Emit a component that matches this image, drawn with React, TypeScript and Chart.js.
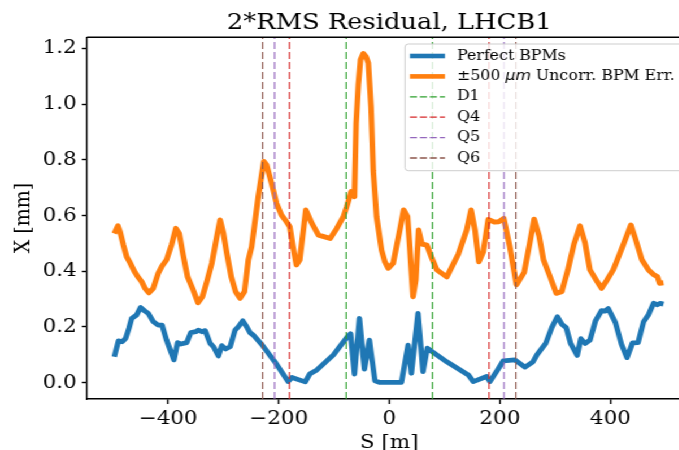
import React, { useEffect, useRef } from 'react';
import { Chart, registerables } from 'chart.js';

Chart.register(...registerables);

// ---- text ----
const TITLE = '2*RMS Residual, LHCB1';
const X_LABEL = 'S [m]';
const Y_LABEL = 'X [mm]';
const X_TICKS = [-400, -200, 0, 200, 400];
const Y_TICKS = [0, 0.2, 0.4, 0.6, 0.8, 1.0, 1.2];
const X_RANGE = [-547, 547];
const Y_RANGE = [-0.0585, 1.2402];

// ---- series: Perfect BPMs ----
const perfectS = [
  -497.5, -490, -483, -477, -471, -466, -457, -450, -442, -436, -427, -418, -411, -403, -389.5,
  -383, -377, -366.5, -359, -350, -345.5, -339, -333, -324, -318, -309, -303, -296, -288, -279,
  -273, -265, -258, -252, -246, -231, -207, -183, -176, -152, -144, -131, -101, -77, -70, -63,
  -54, -45, -36, -26, -17, 22, 34, 40, 52, 61, 68.7, 78, 104, 143, 152, 176, 182, 194, 206,
  227, 245.5, 260, 267, 283, 294, 304, 312, 320, 328, 340, 346.5, 354.5, 363, 373, 384, 390,
  396, 409, 420, 430, 440, 450, 460, 468.5, 478, 485, 490, 496,
];
const perfectX = [
  0.093, 0.150, 0.147, 0.159, 0.195, 0.231, 0.243, 0.270, 0.257, 0.249, 0.219, 0.207, 0.207, 0.153, 0.082,
  0.144, 0.139, 0.144, 0.180, 0.183, 0.189, 0.183, 0.187, 0.141, 0.129, 0.096, 0.133, 0.121, 0.129, 0.189,
  0.201, 0.222, 0.201, 0.180, 0.171, 0.138, 0.075, 0.004, 0.019, 0.003, 0.031, 0.046, 0.100, 0.162, 0.176, 0.031,
  0.231, 0.049, 0.153, 0.007, 0.001, 0.001, 0.135, 0.034, 0.249, 0.040, 0.124, 0.111, 0.075, 0.028, 0.004, 0.022, 0.004, 0.040, 0.078,
  0.082, 0.056, 0.075, 0.100, 0.141, 0.198, 0.237, 0.210, 0.198, 0.141, 0.098, 0.158, 0.141, 0.153, 0.222, 0.259, 0.257,
  0.266, 0.216, 0.138, 0.090, 0.143, 0.144, 0.219, 0.243, 0.285, 0.280, 0.285, 0.282,
];

// ---- series: ±500 μm uncorrelated BPM error ----
const uncorrS = [
  -497.5, -491, -487, -481, -475, -469, -461, -454, -448, -442, -435, -427, -418, -411, -403,
  -394, -386, -380, -373, -365, -356, -346, -338, -330, -321, -312, -306, -300, -294, -286,
  -278, -270, -262, -255, -249, -237, -227, -222, -213, -204, -195, -186, -180, -174, -168,
  -162, -151, -140, -128, -107, -95, -83, -77, -69, -63, -60, -56, -52, -47, -42, -38, -33,
  -29, -23, -14, -8, -2, 7, 19, 26, 33, 37, 43, 48, 53, 59, 68, 77, 86, 104, 125, 140, 148,
  155, 162, 170, 179, 190, 198, 207, 218, 230, 244, 254, 262, 271, 279, 290, 302, 312, 323,
  334, 345, 354, 363, 376, 384, 393, 405, 411, 423, 437, 445, 457, 469, 479, 485, 489, 496,
];
const uncorrX = [
  0.536, 0.563, 0.542, 0.494, 0.452, 0.431, 0.399, 0.378, 0.363, 0.339, 0.323, 0.339, 0.393, 0.419, 0.441,
  0.494, 0.554, 0.536, 0.459, 0.381, 0.339, 0.287, 0.309, 0.363, 0.429, 0.524, 0.584, 0.536, 0.465, 0.381,
  0.327, 0.303, 0.327, 0.441, 0.488, 0.668, 0.794, 0.782, 0.716, 0.644, 0.602, 0.578, 0.560, 0.488, 0.423,
  0.441, 0.620, 0.572, 0.530, 0.518, 0.554, 0.596, 0.632, 0.686, 0.668, 0.930, 1.070, 1.160, 1.182, 1.170, 1.148, 0.990,
  0.760, 0.596, 0.476, 0.434, 0.411, 0.429, 0.548, 0.620, 0.596, 0.488, 0.309, 0.369, 0.548, 0.498, 0.494, 0.447, 0.405, 0.380, 0.462, 0.548, 0.620,
  0.548, 0.434, 0.470, 0.586, 0.577, 0.578, 0.590, 0.488, 0.352, 0.396, 0.500, 0.587, 0.527, 0.441, 0.385, 0.321, 0.327, 0.405,
  0.497, 0.563, 0.503, 0.405, 0.363, 0.339, 0.366, 0.405, 0.434, 0.494, 0.566, 0.518, 0.441, 0.405, 0.387, 0.381, 0.357, 0.359,
];

// ---- magnet positions (vertical markers) ----
const D1_S = [-78, 78];
const Q4_S = [-180.5, 180.5];
const Q5_S = [-207.5, 207.5];
const Q6_S = [-229, 229];

const LABEL_PERFECT = 'Perfect BPMs';
const LABEL_UNCORR = '±500 μm Uncorr. BPM Err.';

const C_BLUE = '#1f77b4';
const C_ORANGE = '#ff7f0e';
const C_GREEN = '#2ca02c';
const C_RED = '#d62728';
const C_PURPLE = '#9467bd';
const C_BROWN = '#8c564b';

const SERIF = '"DejaVu Serif", serif';
const STRETCH = 1.13;
const CW = 620;
const CH = 470;

const zip = (xs: number[], ys: number[]) => xs.map((x, i) => ({ x, y: ys[i] }));
const vlines = (xs: number[]) => {
  const pts: any[] = [];
  xs.forEach((x, i) => {
    if (i > 0) pts.push({ x, y: null });
    pts.push({ x, y: Y_RANGE[0] }, { x, y: Y_RANGE[1] });
  });
  return pts;
};

const framePlugin = {
  id: 'frame',
  afterDatasetsDraw(chart: any) {
    const { ctx, chartArea } = chart;
    ctx.save();
    ctx.strokeStyle = '#000';
    ctx.lineWidth = 1.4;
    ctx.beginPath();
    ctx.moveTo(chartArea.left, chartArea.top);
    ctx.lineTo(chartArea.right, chartArea.top);
    ctx.lineTo(chartArea.right, chartArea.bottom);
    ctx.stroke();
    ctx.restore();
  },
};

const legendPlugin = {
  id: 'mplLegend',
  afterDraw(chart: any) {
    const { ctx } = chart;
    const L = 358.4, T = 44, R = 606.5, B = 170.7;
    ctx.save();
    ctx.beginPath();
    if ((ctx as any).roundRect) (ctx as any).roundRect(L, T, R - L, B - T, 3);
    else ctx.rect(L, T, R - L, B - T);
    ctx.fillStyle = 'rgba(255,255,255,0.8)';
    ctx.fill();
    ctx.strokeStyle = 'rgba(200,200,200,0.9)';
    ctx.lineWidth = 1;
    ctx.stroke();

    const hx0 = 362.8, hx1 = 393.8, tx = 404.4;
    chart.data.datasets.forEach((ds: any, i: number) => {
      const y = 56 + i * 20.4;
      ctx.save();
      ctx.strokeStyle = ds.borderColor;
      ctx.lineWidth = ds.legendWidth;
      ctx.setLineDash(ds.borderDash ? [6.2, 2.6] : []);
      ctx.beginPath();
      ctx.moveTo(hx0, y);
      ctx.lineTo(hx1, y);
      ctx.stroke();
      ctx.restore();

      ctx.fillStyle = '#000';
      ctx.textBaseline = 'middle';
      ctx.textAlign = 'left';
      const label: string = ds.label;
      const parts = label.split('μm');
      let x = tx;
      parts.forEach((p, k) => {
        ctx.font = `14px ${SERIF}`;
        ctx.fillText(p, x, y);
        x += ctx.measureText(p).width;
        if (k < parts.length - 1) {
          ctx.font = 'italic 14px "DejaVu Sans", sans-serif';
          ctx.fillText('μm', x, y);
          x += ctx.measureText('μm').width;
        }
      });
    });
    ctx.restore();
  },
};

export default function App() {
  const ref = useRef<HTMLCanvasElement | null>(null);

  useEffect(() => {
    if (!ref.current) return;
    const vl = (label: string, xs: number[], color: string) => ({
      label,
      data: vlines(xs),
      borderColor: color,
      borderWidth: 1.15,
      borderDash: [7, 3],
      pointRadius: 0,
      spanGaps: false,
      order: 0,
      legendWidth: 1.3,
    });
    const chart = new Chart(ref.current, {
      type: 'line',
      data: {
        datasets: [
          {
            label: LABEL_PERFECT,
            data: zip(perfectS, perfectX),
            borderColor: C_BLUE,
            borderWidth: 4.8,
            borderJoinStyle: 'round',
            pointRadius: 0,
            tension: 0,
            order: 2,
            legendWidth: 4.6,
          } as any,
          {
            label: LABEL_UNCORR,
            data: zip(uncorrS, uncorrX),
            borderColor: C_ORANGE,
            borderWidth: 5,
            borderJoinStyle: 'round',
            pointRadius: 0,
            tension: 0,
            order: 1,
            legendWidth: 4.6,
          } as any,
          vl('D1', D1_S, C_GREEN) as any,
          vl('Q4', Q4_S, C_RED) as any,
          vl('Q5', Q5_S, C_PURPLE) as any,
          vl('Q6', Q6_S, C_BROWN) as any,
        ],
      },
      options: {
        responsive: false,
        animation: false,
        events: [],
        layout: { padding: { left: 0, right: CW - 612.1, top: 0, bottom: 0 } },
        plugins: {
          legend: { display: false },
          tooltip: { enabled: false },
          title: {
            display: true,
            text: TITLE,
            fullSize: false,
            color: '#000',
            font: { family: SERIF, size: 22.8, weight: 'normal' },
            padding: { top: 9.5, bottom: 0.4 },
          },
        },
        scales: {
          x: {
            type: 'linear',
            min: X_RANGE[0],
            max: X_RANGE[1],
            afterBuildTicks: (s: any) => {
              s.ticks = X_TICKS.map((v) => ({ value: v }));
            },
            afterFit: (s: any) => {
              s.height = CH - 399;
            },
            grid: { drawOnChartArea: false, drawTicks: true, tickLength: 5, tickColor: '#000', tickWidth: 1.4 },
            border: { display: true, color: '#000', width: 1.4 },
            ticks: {
              color: '#000',
              padding: 3.7,
              maxRotation: 0,
              font: { family: SERIF, size: 19 },
              callback: (v: any) => (v < 0 ? '\u2212' + Math.abs(v) : String(v)),
            },
            title: {
              display: true,
              text: X_LABEL,
              color: '#000',
              font: { family: SERIF, size: 19 },
              padding: { top: 0, bottom: 16 },
            },
          },
          y: {
            type: 'linear',
            min: Y_RANGE[0],
            max: Y_RANGE[1],
            afterBuildTicks: (s: any) => {
              s.ticks = Y_TICKS.map((v) => ({ value: v }));
            },
            afterFit: (s: any) => {
              s.width = 76.9;
            },
            grid: { drawOnChartArea: false, drawTicks: true, tickLength: 4.4, tickColor: '#000', tickWidth: 1.4 },
            border: { display: true, color: '#000', width: 1.4 },
            ticks: {
              color: '#000',
              padding: 4.6,
              font: { family: SERIF, size: 19 },
              callback: (v: any) => Number(v).toFixed(1),
            },
            title: {
              display: true,
              text: Y_LABEL,
              color: '#000',
              font: { family: SERIF, size: 19 },
              padding: { top: 10, bottom: 0 },
            },
          },
        },
      } as any,
      plugins: [framePlugin, legendPlugin],
    });
    return () => chart.destroy();
  }, []);

  return (
    <div
      style={{
        position: 'fixed',
        left: 0,
        top: 0,
        width: CW,
        height: CH,
        transform: `scaleX(${STRETCH})`,
        transformOrigin: '0 0',
        background: '#fff',
      }}
    >
      <canvas ref={ref} width={CW} height={CH} style={{ display: 'block' }} />
    </div>
  );
}
